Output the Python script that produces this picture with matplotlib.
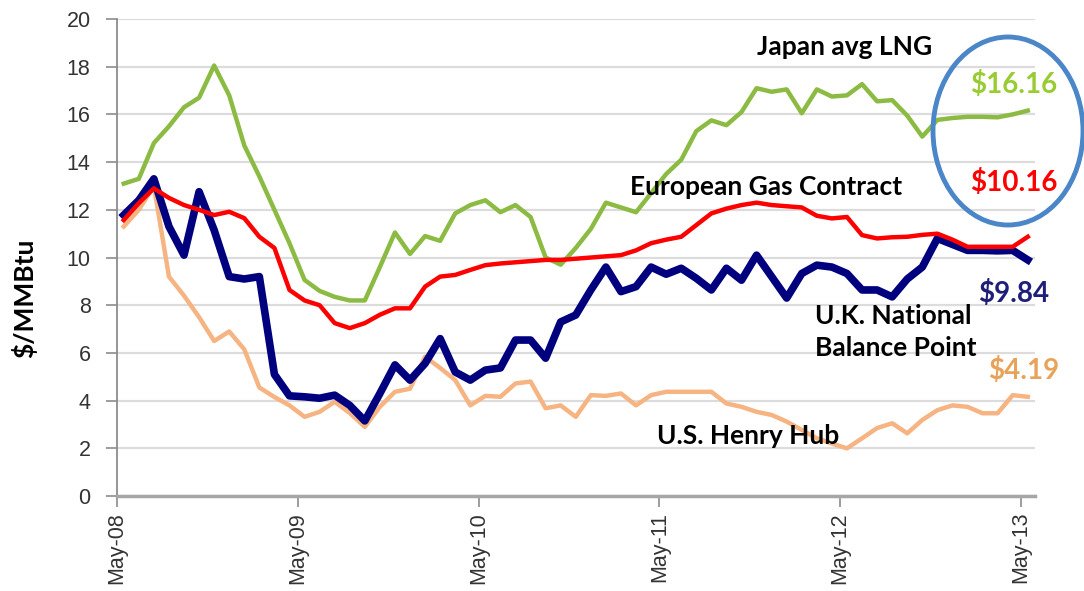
import numpy as np
import matplotlib
matplotlib.use("Agg")
import matplotlib.pyplot as plt
from matplotlib.patches import Ellipse

# monthly prices, May-08 .. May-13 ($/MMBtu)
japan_lng = [13.1, 13.3, 14.8, 15.5, 16.3, 16.7, 18.05, 16.8, 14.7, 13.4,
             12.0, 10.6, 9.06, 8.6, 8.35, 8.2, 8.2, 9.6, 11.05, 10.15,
             10.9, 10.7, 11.85, 12.2, 12.4, 11.9, 12.2, 11.7, 10.0, 9.7,
             10.4, 11.2, 12.3, 12.1, 11.9, 12.7, 13.5, 14.1, 15.3, 15.75,
             15.55, 16.1, 17.1, 16.95, 17.05, 16.05, 17.05, 16.75, 16.8, 17.27,
             16.55, 16.6, 15.95, 15.07, 15.77, 15.85, 15.9, 15.9, 15.88, 16.0, 16.16]
euro_contract = [11.57, 12.28, 12.9, 12.5, 12.2, 12.0, 11.78, 11.92, 11.65, 10.87,
                 10.4, 8.64, 8.2, 8.0, 7.25, 7.04, 7.25, 7.6, 7.87, 7.87,
                 8.78, 9.2, 9.27, 9.48, 9.68, 9.75, 9.8, 9.85, 9.9, 9.9,
                 9.95, 10.0, 10.05, 10.1, 10.3, 10.6, 10.75, 10.87, 11.36, 11.85,
                 12.05, 12.2, 12.3, 12.2, 12.15, 12.1, 11.75, 11.64, 11.7, 10.94,
                 10.8, 10.85, 10.87, 10.95, 11.0, 10.75, 10.45, 10.45, 10.45, 10.45, 10.87]
uk_nbp = [11.78, 12.4, 13.3, 11.3, 10.1, 12.76, 11.15, 9.2, 9.1, 9.2,
          5.1, 4.2, 4.16, 4.1, 4.23, 3.8, 3.15, 4.3, 5.5, 4.86,
          5.56, 6.6, 5.2, 4.86, 5.28, 5.37, 6.54, 6.54, 5.78, 7.3,
          7.59, 8.64, 9.6, 8.57, 8.78, 9.6, 9.3, 9.55, 9.13, 8.64,
          9.55, 9.05, 10.1, 9.2, 8.3, 9.33, 9.68, 9.6, 9.33, 8.64,
          8.64, 8.35, 9.1, 9.6, 10.8, 10.55, 10.3, 10.3, 10.28, 10.3, 9.9]
henry_hub = [11.3, 12.0, 13.0, 9.2, 8.4, 7.5, 6.5, 6.9, 6.15, 4.55,
             4.15, 3.8, 3.32, 3.53, 3.95, 3.48, 2.9, 3.74, 4.37, 4.5,
             5.84, 5.37, 4.86, 3.8, 4.2, 4.16, 4.72, 4.8, 3.68, 3.8,
             3.32, 4.23, 4.2, 4.3, 3.8, 4.23, 4.37, 4.37, 4.37, 4.37,
             3.88, 3.74, 3.53, 3.4, 3.12, 2.77, 2.42, 2.2, 2.0, 2.42,
             2.85, 3.05, 2.63, 3.19, 3.6, 3.8, 3.74, 3.47, 3.47, 4.23, 4.16]

tick_months = [0, 12, 24, 36, 48, 60]
tick_labels = ['May-08', 'May-09', 'May-10', 'May-11', 'May-12', 'May-13']

months = np.arange(len(japan_lng)) + 0.45

fig = plt.figure(figsize=(10.84, 5.91), dpi=100)
ax = fig.add_axes([0.1079, 0.1607, 0.8469, 0.8071])

ax.plot(months, henry_hub, color='#f6b483', lw=3.2, solid_joinstyle='round')
ax.plot(months, japan_lng, color='#8cbb43', lw=3.2, solid_joinstyle='round')
ax.plot(months, uk_nbp, color='#00007f', lw=5.5, solid_joinstyle='round')
ax.plot(months, euro_contract, color='#ff0000', lw=3.2, solid_joinstyle='round')

ax.set_xlim(0, 60.93)
ax.set_ylim(0, 20)
ax.set_yticks(range(0, 21, 2))
ax.set_xticks(tick_months)
ax.set_xticklabels(tick_labels, rotation=90)
ax.grid(axis='y', color='#dcdcdc', lw=1.6)
ax.set_axisbelow(True)
for s in ['top', 'right']:
    ax.spines[s].set_visible(False)
ax.spines['left'].set_color('#8c8c8c')
ax.spines['left'].set_linewidth(1.3)
ax.spines['bottom'].set_color('#a6a6a6')
ax.spines['bottom'].set_linewidth(2.5)
ax.tick_params(axis='both', colors='#8c8c8c', length=8, width=1.2,
               labelcolor='#333333', labelsize=15.5)
ax.tick_params(axis='y', pad=11)
for lab in ax.get_xticklabels() + ax.get_yticklabels():
    lab.set_family('Liberation Sans')

fig.text(0.022, 0.495, '$/MMBtu', rotation=90, ha='center', va='center',
         fontsize=19, fontweight='bold', family='Lato')

lbl = dict(fontsize=19, fontweight='bold', family='Lato', ha='left', va='center')
fig.text(757 / 1084, 1 - 47 / 591, 'Japan avg LNG', **lbl)
fig.text(630 / 1084, 1 - 187 / 591, 'European Gas Contract', **lbl)
fig.text(815 / 1084, 1 - 316 / 591, 'U.K. National', **lbl)
fig.text(815 / 1084, 1 - 348 / 591, 'Balance Point', **lbl)
fig.text(657 / 1084, 1 - 436 / 591, 'U.S. Henry Hub', **lbl)

val = dict(lbl, fontsize=20)
fig.text(970 / 1084, 1 - 85 / 591, '$16.16', color='#99cc33', **val)
fig.text(970 / 1084, 1 - 183 / 591, '$10.16', color='#ff0000', **val)
fig.text(978 / 1084, 1 - 294 / 591, '$9.84', color='#1f1f7a', **val)
fig.text(988 / 1084, 1 - 370 / 591, '$4.19', color='#e8a35a', **val)

ell = Ellipse((1008 / 1084, 1 - 131 / 591), 150 / 1084, 188 / 591,
              transform=fig.transFigure, fill=False, edgecolor='#4a86c8', lw=3.5)
fig.patches.append(ell)

fig.savefig('out.png', dpi=100)
